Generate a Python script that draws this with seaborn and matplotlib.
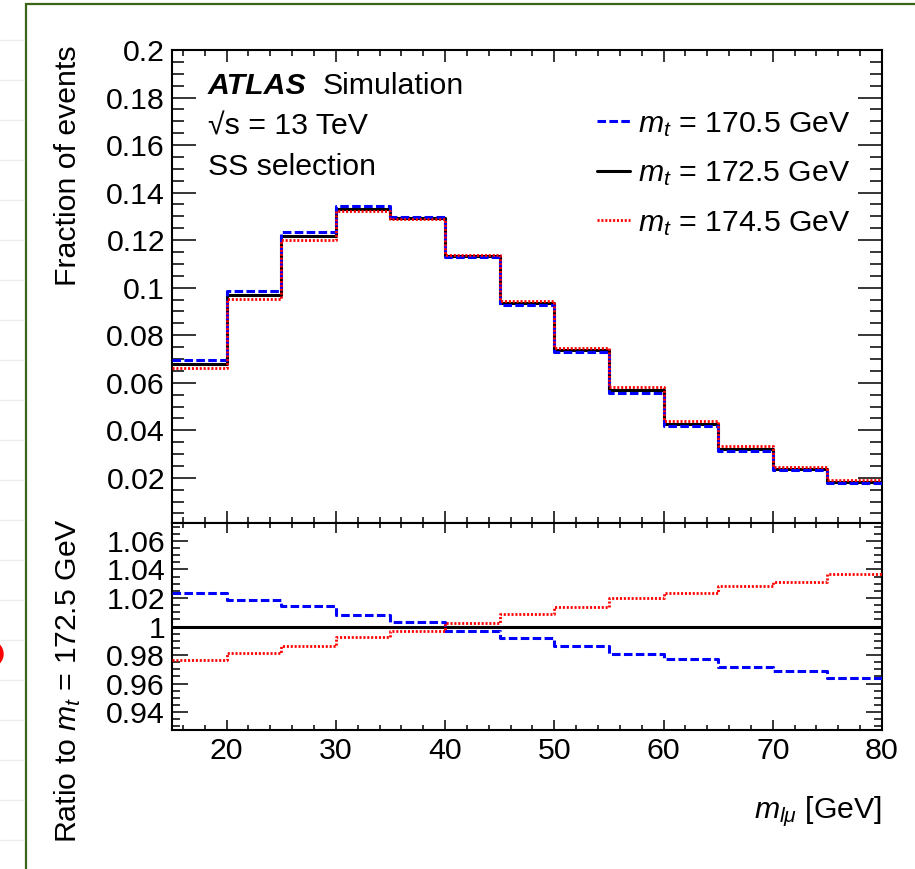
import numpy as np
import pandas as pd
import seaborn as sns
import matplotlib.pyplot as plt
from matplotlib.lines import Line2D
from matplotlib.patches import Rectangle, Ellipse
from matplotlib.ticker import MultipleLocator, FormatStrFormatter

# ==============================
# Data
# ==============================
bin_edges = [15, 20, 25, 30, 35, 40, 45, 50, 55, 60, 65, 70, 75, 80]

# nominal sample, m_t = 172.5 GeV (fraction of events per bin)
frac_1725 = [0.0679, 0.0969, 0.1217, 0.1333, 0.1294, 0.1133, 0.0935,
             0.0738, 0.0570, 0.0428, 0.0323, 0.0239, 0.0183]

# ratios to the nominal sample (lower panel)
ratio_1705 = [1.0236, 1.0189, 1.0142, 1.0082, 1.0033, 0.9970, 0.9917,
              0.9862, 0.9804, 0.9769, 0.9718, 0.9688, 0.9639]
ratio_1745 = [0.9767, 0.9816, 0.9862, 0.9923, 0.9970, 1.0028, 1.0089,
              1.0138, 1.0198, 1.0236, 1.0287, 1.0312, 1.0366]

mass_points = ["170.5", "172.5", "174.5"]

# ==============================
# Style
# ==============================
sns.set_style("ticks")
plt.rcParams["font.family"] = ["Liberation Sans", "DejaVu Sans"]
plt.rcParams["mathtext.fontset"] = "custom"
plt.rcParams["mathtext.rm"] = "Liberation Sans"
plt.rcParams["mathtext.it"] = "Liberation Sans:italic"
plt.rcParams["mathtext.bf"] = "Liberation Sans:bold"
for key in ["text.color", "axes.labelcolor", "xtick.color", "ytick.color",
            "axes.edgecolor"]:
    plt.rcParams[key] = "black"

FS = 21.8
W, H = 915, 869

centers = [(a + b) / 2 for a, b in zip(bin_edges[:-1], bin_edges[1:])]
nom = np.array(frac_1725)
df = pd.DataFrame({
    "mll": centers,
    "f170.5": nom * np.array(ratio_1705),
    "f172.5": nom,
    "f174.5": nom * np.array(ratio_1745),
    "r170.5": ratio_1705,
    "r172.5": nom / nom,
    "r174.5": ratio_1745,
})

styles = {
    "172.5": dict(color="black", ls="-", lw=2.2, zorder=2),
    "170.5": dict(color="#0000ff", ls=(0, (2.8, 1.1)), lw=2.2, zorder=3),
    "174.5": dict(color="#ff0000", ls=(0, (0.75, 0.65)), lw=2.0, zorder=4),
}

fig = plt.figure(figsize=(W / 100, H / 100), dpi=100)
ax1 = fig.add_axes([172 / W, 1 - 523 / H, 710 / W, 473 / H])
ax2 = fig.add_axes([172 / W, 1 - 730 / H, 710 / W, 207 / H])

for m in ["172.5", "170.5", "174.5"]:
    sns.histplot(data=df, x="mll", weights="f" + m, bins=bin_edges,
                 element="step", fill=False, ax=ax1, **styles[m])
    sns.histplot(data=df, x="mll", weights="r" + m, bins=bin_edges,
                 element="step", fill=False, ax=ax2, **styles[m])

# ==============================
# Axes
# ==============================
for ax in (ax1, ax2):
    ax.set_xlim(15, 80)
    ax.set_xlabel("")
    ax.set_ylabel("")
    ax.xaxis.set_major_locator(MultipleLocator(10))
    ax.xaxis.set_minor_locator(MultipleLocator(2))
    ax.yaxis.set_major_formatter(FormatStrFormatter("%g"))
    ax.tick_params(which="both", direction="in", top=True, right=True,
                   width=1.1, labelsize=FS, color="black", labelcolor="black")
    ax.tick_params(axis="y", pad=5)
    for s in ax.spines.values():
        s.set_linewidth(1.5)
        s.set_color("black")

ax1.set_ylim(0.001, 0.2)
ax1.yaxis.set_major_locator(MultipleLocator(0.02))
ax1.yaxis.set_minor_locator(MultipleLocator(0.005))
ax1.tick_params(axis="y", which="major", length=17)
ax1.tick_params(axis="y", which="minor", length=8.5)
ax1.tick_params(axis="x", which="major", length=8.6)
ax1.tick_params(axis="x", which="minor", length=4.3)
ax1.tick_params(labelbottom=False)

ax2.set_ylim(0.9275, 1.0725)
ax2.yaxis.set_major_locator(MultipleLocator(0.02))
ax2.yaxis.set_minor_locator(MultipleLocator(0.005))
ax2.tick_params(axis="y", which="major", length=11.5)
ax2.tick_params(axis="y", which="minor", length=5.8)
ax2.tick_params(axis="x", which="major", length=7.2, pad=5)
ax2.tick_params(axis="x", which="minor", length=3.6)

# ==============================
# Labels and texts
# ==============================
fig.text(68 / W, 1 - 45 / H, "Fraction of events", rotation=90,
         ha="center", va="top", fontsize=FS)
fig.text(68 / W, 1 - 518 / H, "Ratio to $m_t$ = 172.5 GeV", rotation=90,
         ha="center", va="top", fontsize=FS)
fig.text(882 / W, 1 - 812 / H, r"$m_{l\mu}$ [GeV]", ha="right",
         va="center", fontsize=FS)

ax1.text(0.0507, 0.907, "ATLAS", transform=ax1.transAxes, fontsize=FS,
         fontweight="bold", fontstyle="italic", va="baseline")
ax1.text(0.2127, 0.907, "Simulation", transform=ax1.transAxes, fontsize=FS,
         va="baseline")
ax1.text(0.0507, 0.822, "√s = 13 TeV", transform=ax1.transAxes,
         fontsize=FS, va="baseline")
ax1.text(0.0507, 0.736, "SS selection", transform=ax1.transAxes,
         fontsize=FS, va="baseline")

handles = [Line2D([], [], color=styles[m]["color"], ls=styles[m]["ls"],
                  lw=styles[m]["lw"]) for m in mass_points]
labels = [f"$m_t$ = {m} GeV" for m in mass_points]
ax1.legend(handles, labels, loc="upper right", bbox_to_anchor=(0.956, 0.873),
           frameon=False, fontsize=FS, handlelength=1.07, handletextpad=0.27,
           labelspacing=0.68, borderpad=0, borderaxespad=0)

# ==============================
# Page decoration around the figure
# ==============================
for yy in range(40, H, 40):
    fig.add_artist(Line2D([0, 24 / W], [1 - yy / H, 1 - yy / H],
                          transform=fig.transFigure, color="#eeeeee", lw=1))
fig.add_artist(Rectangle((26 / W, -0.2), 1.5, 1.2 - 3.5 / H,
                         transform=fig.transFigure, fill=False,
                         edgecolor="#3d6519", lw=1.6))
fig.add_artist(Ellipse((-10 / W, 1 - 654 / H), 26 / W, 26 / H,
                       transform=fig.transFigure, color="#ff0000"))

fig.savefig("out.png", dpi=100)
